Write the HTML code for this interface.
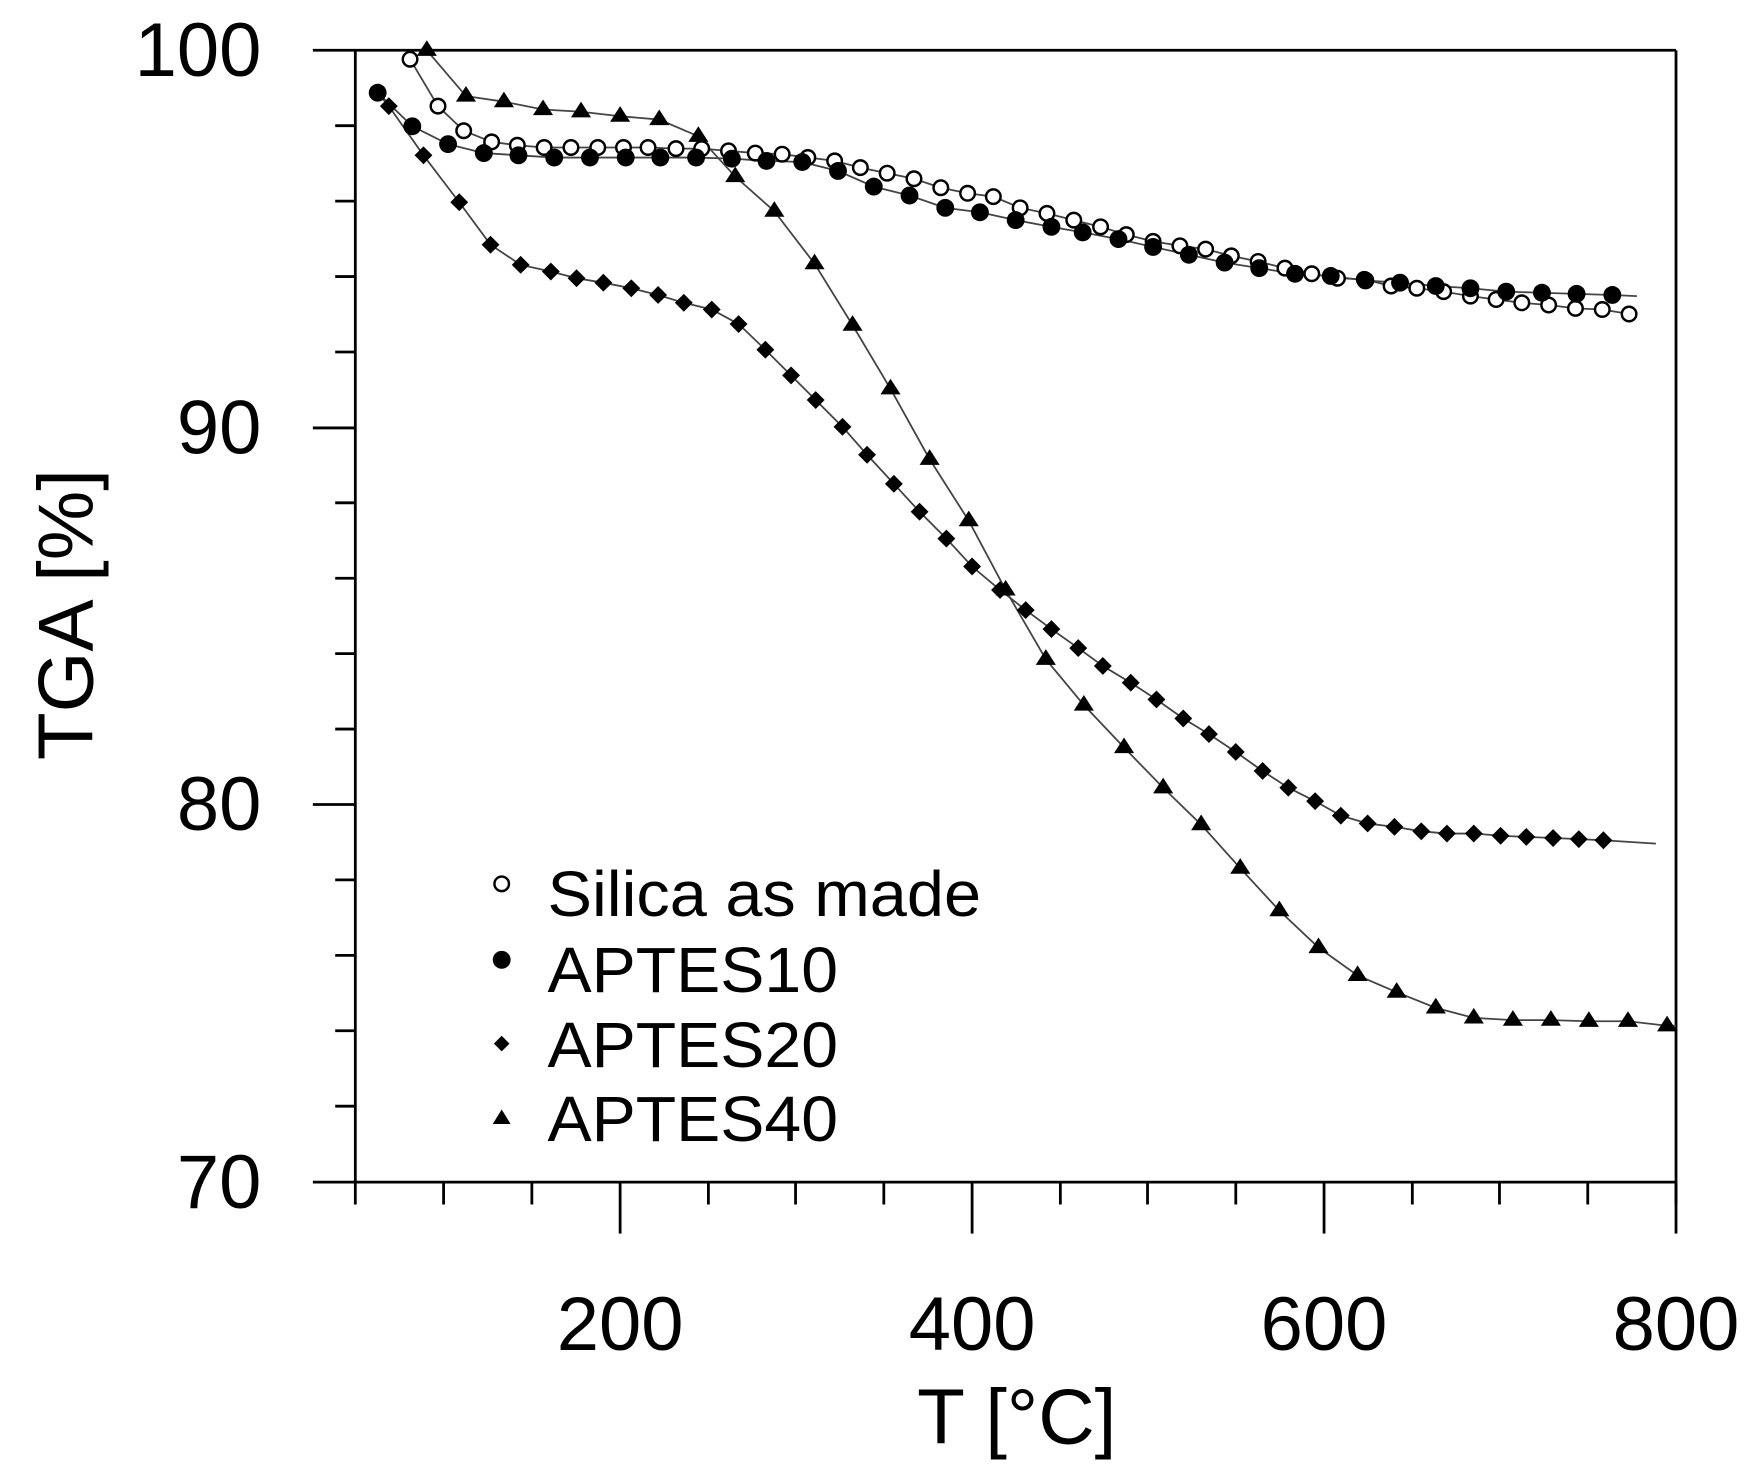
<!DOCTYPE html>
<html><head><meta charset="utf-8"><style>html,body{margin:0;padding:0;background:#fff}svg{display:block}</style></head>
<body>
<svg width="1752" height="1472" viewBox="0 0 1568 1317.4" preserveAspectRatio="none" xmlns="http://www.w3.org/2000/svg" font-family="Liberation Sans, Arial, sans-serif">
<g stroke="#000" stroke-width="2.5" fill="none">
<line x1="280" y1="45" x2="1500" y2="45"/>
<line x1="280" y1="1058" x2="1500" y2="1058"/>
<line x1="318" y1="45" x2="318" y2="1058"/>
<line x1="1500" y1="45" x2="1500" y2="1078"/>
<line x1="280" y1="383" x2="318" y2="383"/>
<line x1="280" y1="720" x2="318" y2="720"/>
<line x1="300" y1="112.5" x2="318" y2="112.5"/><line x1="300" y1="180" x2="318" y2="180"/><line x1="300" y1="247.5" x2="318" y2="247.5"/><line x1="300" y1="315" x2="318" y2="315"/>
<line x1="300" y1="450" x2="318" y2="450"/><line x1="300" y1="517.5" x2="318" y2="517.5"/><line x1="300" y1="585" x2="318" y2="585"/><line x1="300" y1="652.5" x2="318" y2="652.5"/>
<line x1="300" y1="787.5" x2="318" y2="787.5"/><line x1="300" y1="855" x2="318" y2="855"/><line x1="300" y1="922.5" x2="318" y2="922.5"/><line x1="300" y1="990" x2="318" y2="990"/>
<line x1="318" y1="1058" x2="318" y2="1078"/><line x1="397" y1="1058" x2="397" y2="1078"/><line x1="476" y1="1058" x2="476" y2="1078"/><line x1="555" y1="1058" x2="555" y2="1104"/>
<line x1="634" y1="1058" x2="634" y2="1078"/><line x1="712" y1="1058" x2="712" y2="1078"/><line x1="791" y1="1058" x2="791" y2="1078"/><line x1="870" y1="1058" x2="870" y2="1104"/>
<line x1="949" y1="1058" x2="949" y2="1078"/><line x1="1027" y1="1058" x2="1027" y2="1078"/><line x1="1106" y1="1058" x2="1106" y2="1078"/><line x1="1185" y1="1058" x2="1185" y2="1104"/>
<line x1="1264" y1="1058" x2="1264" y2="1078"/><line x1="1342" y1="1058" x2="1342" y2="1078"/><line x1="1421" y1="1058" x2="1421" y2="1078"/><line x1="1500" y1="1058" x2="1500" y2="1104"/>
</g>
<g font-size="68" fill="#000">
<text x="234" y="68" text-anchor="end">100</text>
<text x="234" y="406" text-anchor="end">90</text>
<text x="234" y="743" text-anchor="end">80</text>
<text x="234" y="1081" text-anchor="end">70</text>
<text x="555" y="1208" text-anchor="middle">200</text>
<text x="870" y="1208" text-anchor="middle">400</text>
<text x="1185" y="1208" text-anchor="middle">600</text>
<text x="1500" y="1208" text-anchor="middle">800</text>
<text x="910" y="1292" text-anchor="middle" font-size="70">T [°C]</text>
<text transform="translate(83,550) rotate(-90)" text-anchor="middle" font-size="70">TGA [%]</text>
</g>
<g fill="none" stroke="#444" stroke-width="1.6">
<polyline points="367,53 392,95 415,117 440,127 463,130 487,132 511,132 535,132 558,132 580,132 605,133 628,133 652,135 676,137 700,138 723,141 747,144 770,150 794,155 818,160 842,168 866,173 889,176 913,186 937,191 961,197 985,203 1008,210 1032,216 1056,220 1079,223 1102,229 1126,234 1150,240 1174,245 1197,249 1221,250 1245,256 1268,258 1292,261 1316,265 1339,268 1362,271 1386,273 1410,276 1434,277 1458,281"/>
<polyline points="338,83 369,113 401,129 433,137 464,139 496,141 528,141 560,141 591,141 623,141 655,142 686,144 718,145 750,153 782,167 814,175 846,186 877,190 909,197 941,203 969,208 1001,214 1032,221 1064,228 1096,235 1127,240 1159,245 1191,247 1222,251 1253,253 1285,256 1316,258 1348,261 1380,262 1411,263 1443,264 1465,265"/>
<polyline points="338,83 348,95 379,139 411,181 439,219 466,237 493,243 516,249 540,253 565,258 589,264 612,271 637,277 661,290 685,313 708,336 730,358 754,382 776,407 800,433 823,458 847,482 870,507 895,528 918,546 941,563 965,580 987,596 1012,611 1035,626 1059,643 1082,657 1106,673 1130,690 1153,705 1177,717 1200,730 1224,737 1248,740 1272,744 1295,746 1319,746 1343,748 1366,749 1390,750 1413,751 1435,752 1482,755"/>
<polyline points="382,45 417,86 451,91 486,98 520,100 555,104 590,107 625,122 658,158 693,189 729,236 763,291 797,348 832,411 867,466 900,528 936,590 970,631 1006,669 1041,705 1075,738 1110,777 1145,815 1180,848 1215,873 1250,888 1285,902 1319,911 1354,913 1388,913 1422,914 1457,914 1492,918 1500,918"/>
</g>
<g fill="#fff" stroke="#000" stroke-width="2.2">
<circle cx="367" cy="53" r="6.5"/><circle cx="392" cy="95" r="6.5"/><circle cx="415" cy="117" r="6.5"/><circle cx="440" cy="127" r="6.5"/><circle cx="463" cy="130" r="6.5"/><circle cx="487" cy="132" r="6.5"/><circle cx="511" cy="132" r="6.5"/><circle cx="535" cy="132" r="6.5"/><circle cx="558" cy="132" r="6.5"/><circle cx="580" cy="132" r="6.5"/><circle cx="605" cy="133" r="6.5"/><circle cx="628" cy="133" r="6.5"/><circle cx="652" cy="135" r="6.5"/><circle cx="676" cy="137" r="6.5"/><circle cx="700" cy="138" r="6.5"/><circle cx="723" cy="141" r="6.5"/><circle cx="747" cy="144" r="6.5"/><circle cx="770" cy="150" r="6.5"/><circle cx="794" cy="155" r="6.5"/><circle cx="818" cy="160" r="6.5"/><circle cx="842" cy="168" r="6.5"/><circle cx="866" cy="173" r="6.5"/><circle cx="889" cy="176" r="6.5"/><circle cx="913" cy="186" r="6.5"/><circle cx="937" cy="191" r="6.5"/><circle cx="961" cy="197" r="6.5"/><circle cx="985" cy="203" r="6.5"/><circle cx="1008" cy="210" r="6.5"/><circle cx="1032" cy="216" r="6.5"/><circle cx="1056" cy="220" r="6.5"/><circle cx="1079" cy="223" r="6.5"/><circle cx="1102" cy="229" r="6.5"/><circle cx="1126" cy="234" r="6.5"/><circle cx="1150" cy="240" r="6.5"/><circle cx="1174" cy="245" r="6.5"/><circle cx="1197" cy="249" r="6.5"/><circle cx="1221" cy="250" r="6.5"/><circle cx="1245" cy="256" r="6.5"/><circle cx="1268" cy="258" r="6.5"/><circle cx="1292" cy="261" r="6.5"/><circle cx="1316" cy="265" r="6.5"/><circle cx="1339" cy="268" r="6.5"/><circle cx="1362" cy="271" r="6.5"/><circle cx="1386" cy="273" r="6.5"/><circle cx="1410" cy="276" r="6.5"/><circle cx="1434" cy="277" r="6.5"/><circle cx="1458" cy="281" r="6.5"/>
<circle cx="449" cy="791" r="6.5"/>
</g>
<g fill="#000">
<circle cx="338" cy="83" r="8"/><circle cx="369" cy="113" r="8"/><circle cx="401" cy="129" r="8"/><circle cx="433" cy="137" r="8"/><circle cx="464" cy="139" r="8"/><circle cx="496" cy="141" r="8"/><circle cx="528" cy="141" r="8"/><circle cx="560" cy="141" r="8"/><circle cx="591" cy="141" r="8"/><circle cx="623" cy="141" r="8"/><circle cx="655" cy="142" r="8"/><circle cx="686" cy="144" r="8"/><circle cx="718" cy="145" r="8"/><circle cx="750" cy="153" r="8"/><circle cx="782" cy="167" r="8"/><circle cx="814" cy="175" r="8"/><circle cx="846" cy="186" r="8"/><circle cx="877" cy="190" r="8"/><circle cx="909" cy="197" r="8"/><circle cx="941" cy="203" r="8"/><circle cx="969" cy="208" r="8"/><circle cx="1001" cy="214" r="8"/><circle cx="1032" cy="221" r="8"/><circle cx="1064" cy="228" r="8"/><circle cx="1096" cy="235" r="8"/><circle cx="1127" cy="240" r="8"/><circle cx="1159" cy="245" r="8"/><circle cx="1191" cy="247" r="8"/><circle cx="1222" cy="251" r="8"/><circle cx="1253" cy="253" r="8"/><circle cx="1285" cy="256" r="8"/><circle cx="1316" cy="258" r="8"/><circle cx="1348" cy="261" r="8"/><circle cx="1380" cy="262" r="8"/><circle cx="1411" cy="263" r="8"/><circle cx="1443" cy="264" r="8"/>
<circle cx="449" cy="859" r="8"/>
</g>
<g fill="#000">
<path d="M348,87l8,8l-8,8l-8,-8z"/><path d="M379,131l8,8l-8,8l-8,-8z"/><path d="M411,173l8,8l-8,8l-8,-8z"/><path d="M439,211l8,8l-8,8l-8,-8z"/><path d="M466,229l8,8l-8,8l-8,-8z"/><path d="M493,235l8,8l-8,8l-8,-8z"/><path d="M516,241l8,8l-8,8l-8,-8z"/><path d="M540,245l8,8l-8,8l-8,-8z"/><path d="M565,250l8,8l-8,8l-8,-8z"/><path d="M589,256l8,8l-8,8l-8,-8z"/><path d="M612,263l8,8l-8,8l-8,-8z"/><path d="M637,269l8,8l-8,8l-8,-8z"/><path d="M661,282l8,8l-8,8l-8,-8z"/><path d="M685,305l8,8l-8,8l-8,-8z"/><path d="M708,328l8,8l-8,8l-8,-8z"/><path d="M730,350l8,8l-8,8l-8,-8z"/><path d="M754,374l8,8l-8,8l-8,-8z"/><path d="M776,399l8,8l-8,8l-8,-8z"/><path d="M800,425l8,8l-8,8l-8,-8z"/><path d="M823,450l8,8l-8,8l-8,-8z"/><path d="M847,474l8,8l-8,8l-8,-8z"/><path d="M870,499l8,8l-8,8l-8,-8z"/><path d="M895,520l8,8l-8,8l-8,-8z"/><path d="M918,538l8,8l-8,8l-8,-8z"/><path d="M941,555l8,8l-8,8l-8,-8z"/><path d="M965,572l8,8l-8,8l-8,-8z"/><path d="M987,588l8,8l-8,8l-8,-8z"/><path d="M1012,603l8,8l-8,8l-8,-8z"/><path d="M1035,618l8,8l-8,8l-8,-8z"/><path d="M1059,635l8,8l-8,8l-8,-8z"/><path d="M1082,649l8,8l-8,8l-8,-8z"/><path d="M1106,665l8,8l-8,8l-8,-8z"/><path d="M1130,682l8,8l-8,8l-8,-8z"/><path d="M1153,697l8,8l-8,8l-8,-8z"/><path d="M1177,709l8,8l-8,8l-8,-8z"/><path d="M1200,722l8,8l-8,8l-8,-8z"/><path d="M1224,729l8,8l-8,8l-8,-8z"/><path d="M1248,732l8,8l-8,8l-8,-8z"/><path d="M1272,736l8,8l-8,8l-8,-8z"/><path d="M1295,738l8,8l-8,8l-8,-8z"/><path d="M1319,738l8,8l-8,8l-8,-8z"/><path d="M1343,740l8,8l-8,8l-8,-8z"/><path d="M1366,741l8,8l-8,8l-8,-8z"/><path d="M1390,742l8,8l-8,8l-8,-8z"/><path d="M1413,743l8,8l-8,8l-8,-8z"/><path d="M1435,744l8,8l-8,8l-8,-8z"/>
<path d="M449,927l7,7l-7,7l-7,-7z"/>
</g>
<g fill="#000">
<path d="M382,36l9,14h-18z"/><path d="M417,77l9,14h-18z"/><path d="M451,82l9,14h-18z"/><path d="M486,89l9,14h-18z"/><path d="M520,91l9,14h-18z"/><path d="M555,95l9,14h-18z"/><path d="M590,98l9,14h-18z"/><path d="M625,113l9,14h-18z"/><path d="M658,149l9,14h-18z"/><path d="M693,180l9,14h-18z"/><path d="M729,227l9,14h-18z"/><path d="M763,282l9,14h-18z"/><path d="M797,339l9,14h-18z"/><path d="M832,402l9,14h-18z"/><path d="M867,457l9,14h-18z"/><path d="M900,519l9,14h-18z"/><path d="M936,581l9,14h-18z"/><path d="M970,622l9,14h-18z"/><path d="M1006,660l9,14h-18z"/><path d="M1041,696l9,14h-18z"/><path d="M1075,729l9,14h-18z"/><path d="M1110,768l9,14h-18z"/><path d="M1145,806l9,14h-18z"/><path d="M1180,839l9,14h-18z"/><path d="M1215,864l9,14h-18z"/><path d="M1250,879l9,14h-18z"/><path d="M1285,893l9,14h-18z"/><path d="M1319,902l9,14h-18z"/><path d="M1354,904l9,14h-18z"/><path d="M1388,904l9,14h-18z"/><path d="M1422,905l9,14h-18z"/><path d="M1457,905l9,14h-18z"/><path d="M1492,909l9,14h-18z"/>
<path d="M449,993l8,13h-16z"/>
</g>
<g font-size="57" fill="#000">
<text x="490" y="820" textLength="388" lengthAdjust="spacingAndGlyphs">Silica as made</text>
<text x="490" y="888" textLength="260" lengthAdjust="spacingAndGlyphs">APTES10</text>
<text x="490" y="955" textLength="260" lengthAdjust="spacingAndGlyphs">APTES20</text>
<text x="490" y="1021" textLength="260" lengthAdjust="spacingAndGlyphs">APTES40</text>
</g>
</svg>
</body></html>
